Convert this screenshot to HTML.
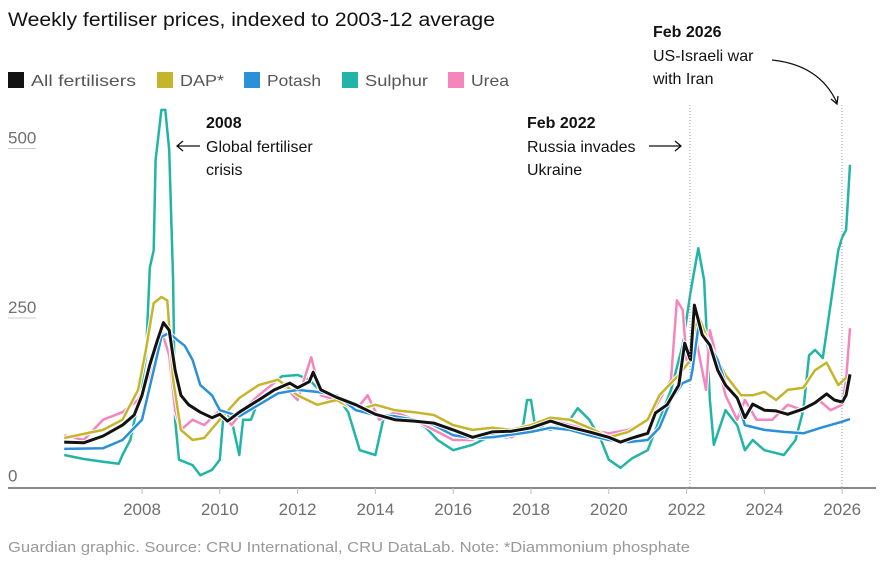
<!DOCTYPE html>
<html><head><meta charset="utf-8">
<style>
body{margin:0;background:#fff;font-family:"Liberation Sans",sans-serif;}
svg text{font-family:"Liberation Sans",sans-serif;}
</style></head>
<body>
<svg id="chart" width="884" height="566" viewBox="0 0 884 566" xmlns="http://www.w3.org/2000/svg">
<text x="8" y="26" font-size="19" fill="#121212" textLength="487" lengthAdjust="spacingAndGlyphs">Weekly fertiliser prices, indexed to 2003-12 average</text>
<g font-size="16" fill="#555">
 <g><rect x="8" y="72" width="16" height="16" fill="#121212"/><text x="31" y="86" textLength="105" lengthAdjust="spacingAndGlyphs">All fertilisers</text></g>
 <g><rect x="157" y="72" width="16" height="16" fill="#c5b52c"/><text x="180" y="86" textLength="44" lengthAdjust="spacingAndGlyphs">DAP*</text></g>
 <g><rect x="244" y="72" width="16" height="16" fill="#2a90d8"/><text x="267" y="86" textLength="54" lengthAdjust="spacingAndGlyphs">Potash</text></g>
 <g><rect x="342" y="72" width="16" height="16" fill="#22b5a6"/><text x="365" y="86" textLength="63" lengthAdjust="spacingAndGlyphs">Sulphur</text></g>
 <g><rect x="448" y="72" width="16" height="16" fill="#f485bd"/><text x="471" y="86" textLength="38" lengthAdjust="spacingAndGlyphs">Urea</text></g>
</g>
<g id="axes"></g>
<g id="marks"></g>
<g font-size="16" fill="#121212">
 <line x1="690" y1="105" x2="690" y2="488" stroke="#999" stroke-dasharray="1,2"/>
 <line x1="842" y1="105" x2="842" y2="488" stroke="#999" stroke-dasharray="1,2"/>
 <text x="206" y="128" font-weight="bold">2008</text>
 <text x="206" y="152">Global fertiliser</text>
 <text x="206" y="175">crisis</text>
 <path d="M200 146 H177 M183 141 L177 146 L183 151" stroke="#121212" fill="none" stroke-width="1.3"/>
 <text x="527" y="128" font-weight="bold">Feb 2022</text>
 <text x="527" y="152">Russia invades</text>
 <text x="527" y="175">Ukraine</text>
 <path d="M649 146 H681 M675 141 L681 146 L675 151" stroke="#121212" fill="none" stroke-width="1.3"/>
 <text x="653" y="37" font-weight="bold">Feb 2026</text>
 <text x="653" y="61">US-Israeli war</text>
 <text x="653" y="84">with Iran</text>
 <path d="M772 60 Q820 65 837 103 M831 99 L837 104 L838 96" stroke="#121212" fill="none" stroke-width="1.3"/>
</g>
<text x="8" y="552" font-size="14.5" fill="#999" textLength="682" lengthAdjust="spacingAndGlyphs">Guardian graphic. Source: CRU International, CRU DataLab. Note: *Diammonium phosphate</text>
</svg>
<script>
const yTicks=[0,250,500];
const xTicks=[2008,2010,2012,2014,2016,2018,2020,2022,2024,2026];
const allDates=[2006.0,2006.5,2007.0,2007.5,2007.8,2008.0,2008.2,2008.4,2008.55,2008.7,2008.85,2009.0,2009.2,2009.5,2009.8,2010.0,2010.2,2010.5,2010.8,2011.0,2011.4,2011.8,2012.0,2012.3,2012.4,2012.6,2013.0,2013.5,2014.0,2014.5,2015.0,2015.5,2016.0,2016.5,2017.0,2017.5,2018.0,2018.5,2019.0,2019.5,2020.0,2020.3,2020.6,2021.0,2021.2,2021.5,2021.8,2021.95,2022.1,2022.2,2022.4,2022.6,2022.8,2023.0,2023.3,2023.5,2023.7,2024.0,2024.3,2024.6,2025.0,2025.3,2025.6,2025.8,2026.0,2026.1,2026.2];
const allValues=[67,66,76,92,107,136,181,218,243,232,173,136,122,111,103,108,98,111,122,129,144,154,147,156,170,144,133,122,108,100,98,95,85,74,82,83,88,98,89,82,74,67,73,80,110,122,151,213,188,269,225,210,173,151,132,103,123,114,113,108,116,125,138,129,126,136,167];
const potashDates=[2006,2007,2007.5,2008.0,2008.3,2008.5,2008.7,2008.9,2009.1,2009.3,2009.5,2009.8,2010.0,2010.5,2011.0,2011.5,2012.0,2012.5,2013.0,2013.5,2014.0,2014.5,2015.0,2015.5,2016.0,2016.5,2017.0,2018,2018.5,2019,2019.5,2020,2020.5,2021.0,2021.3,2021.6,2021.9,2022.1,2022.15,2022.3,2022.5,2022.8,2023.0,2023.3,2023.5,2024,2024.5,2025,2025.5,2026.0,2026.2];
const potashValues=[57,58,70,100,173,222,228,218,209,188,151,136,114,105,122,139,144,141,136,114,107,105,100,92,77,73,74,82,88,85,77,70,67,70,88,129,154,159,173,236,220,188,154,129,92,85,82,80,89,97,101];
const sulphurDates=[2006,2006.5,2007,2007.4,2007.5,2007.7,2007.85,2008.1,2008.2,2008.3,2008.35,2008.5,2008.6,2008.7,2008.8,2008.85,2008.95,2009.3,2009.5,2009.8,2010.0,2010.1,2010.3,2010.5,2010.6,2010.8,2011.0,2011.3,2011.6,2012,2012.3,2012.8,2013.0,2013.3,2013.6,2014.0,2014.2,2014.5,2015.0,2015.3,2015.6,2016.0,2016.5,2017,2017.5,2017.8,2017.9,2018.0,2018.1,2018.5,2019.0,2019.2,2019.5,2019.8,2020.0,2020.3,2020.6,2021.0,2021.3,2021.6,2021.9,2022.1,2022.3,2022.45,2022.6,2022.7,2023.0,2023.3,2023.5,2023.7,2024,2024.5,2024.8,2025.0,2025.15,2025.3,2025.5,2025.7,2025.9,2026.0,2026.1,2026.2];
const sulphurValues=[48,42,38,35,48,70,111,191,324,350,483,557,557,498,306,100,41,33,18,26,41,111,100,48,100,100,129,151,164,166,159,129,136,111,55,48,100,114,100,88,70,55,63,77,73,92,129,129,92,85,100,117,100,70,41,29,43,55,100,144,210,288,353,306,129,63,114,92,55,70,55,48,70,114,195,203,191,269,350,369,380,476];
const dapDates=[2006.0,2007.0,2007.5,2007.9,2008.1,2008.3,2008.5,2008.65,2008.8,2009.0,2009.3,2009.6,2010,2010.5,2011,2011.5,2012,2012.5,2013,2013.5,2014,2014.5,2015,2015.5,2016,2016.5,2017,2017.5,2018,2018.5,2019,2019.5,2020,2020.5,2021.0,2021.3,2021.8,2022.1,2022.3,2022.6,2023,2023.4,2023.7,2024.0,2024.3,2024.6,2025.0,2025.3,2025.6,2025.9,2026.1];
const dapValues=[73,85,100,144,203,272,281,276,159,85,70,73,100,132,151,159,136,122,129,114,122,114,111,107,92,85,88,85,92,103,100,88,74,82,100,136,166,188,254,210,166,136,136,141,129,144,147,173,184,151,162];
const ureaDates=[2006,2006.5,2007,2007.5,2007.9,2008.2,2008.5,2008.7,2008.85,2009.0,2009.3,2009.6,2010.0,2010.3,2010.6,2011,2011.5,2012.0,2012.35,2012.6,2013,2013.5,2013.8,2014.1,2014.5,2015,2015.5,2016,2016.5,2017,2017.5,2018,2018.5,2019,2019.5,2020,2020.5,2021.0,2021.3,2021.6,2021.75,2021.9,2022.0,2022.2,2022.5,2022.6,2023.0,2023.3,2023.5,2023.8,2024.2,2024.6,2025.0,2025.4,2025.7,2026.0,2026.1,2026.2];
const ureaValues=[77,70,100,111,129,166,232,195,114,85,100,92,114,92,114,136,159,129,192,136,129,114,136,100,111,100,85,70,70,85,74,92,100,92,85,80,85,100,129,159,276,262,188,232,144,232,136,100,129,100,100,122,114,129,114,122,159,235];

const NS='http://www.w3.org/2000/svg';
function xScale(t){return 142+(t-2008)*38.9;}
function yScale(v){return 487.5-v*0.678;}
const axes=document.getElementById('axes');
yTicks.forEach(v=>{
  const t=document.createElementNS(NS,'text');
  
  
  t.setAttribute('x',8);t.setAttribute('y',yScale(v)-(v===0?6:5));
  t.setAttribute('font-size','17');t.setAttribute('fill','#707070');
  t.textContent=v;axes.appendChild(t);
  if(v>0){const l=document.createElementNS(NS,'line');
  
  
  l.setAttribute('x1',8);l.setAttribute('x2',36);l.setAttribute('y1',yScale(v));l.setAttribute('y2',yScale(v));
  l.setAttribute('stroke','#ccc');axes.appendChild(l);}
});
const base=document.createElementNS(NS,'line');


base.setAttribute('x1',8);base.setAttribute('x2',876);base.setAttribute('y1',488);base.setAttribute('y2',488);
base.setAttribute('stroke','#121212');axes.appendChild(base);
xTicks.forEach(y=>{
  const l=document.createElementNS(NS,'line');
  
  
  l.setAttribute('x1',xScale(y));l.setAttribute('x2',xScale(y));l.setAttribute('y1',488);l.setAttribute('y2',494);
  l.setAttribute('stroke','#bbb');axes.appendChild(l);
  const t=document.createElementNS(NS,'text');
  
  
  t.setAttribute('x',xScale(y));t.setAttribute('y',515);t.setAttribute('text-anchor','middle');
  t.setAttribute('font-size','17');t.setAttribute('fill','#707070');
  t.textContent=y;axes.appendChild(t);
});
const marks=document.getElementById('marks');
function drawLine(dates,vals,color,name,w){
  const d=dates.map((t,i)=>(i?'L':'M')+xScale(t).toFixed(1)+' '+yScale(vals[i]).toFixed(1)).join(' ');
  const halo=document.createElementNS(NS,'path');
  
  
  halo.setAttribute('d',d);halo.setAttribute('fill','none');halo.setAttribute('stroke','#fff');
  halo.setAttribute('stroke-width',w+2);halo.setAttribute('stroke-linejoin','round');
  marks.appendChild(halo);
  const p=document.createElementNS(NS,'path');
  
  
  p.setAttribute('d',d);p.setAttribute('fill','none');p.setAttribute('stroke',color);
  p.setAttribute('stroke-width',w);p.setAttribute('stroke-linejoin','round');
  marks.appendChild(p);
}
drawLine(sulphurDates,sulphurValues,'#22b5a6','sulphur-line',2.5);
drawLine(ureaDates,ureaValues,'#f485bd','urea-line',2.5);
drawLine(dapDates,dapValues,'#c5b52c','dap-line',2.5);
drawLine(potashDates,potashValues,'#2a90d8','potash-line',2.5);
drawLine(allDates,allValues,'#121212','all-fertilisers-line',3);
</script>
</body></html>
